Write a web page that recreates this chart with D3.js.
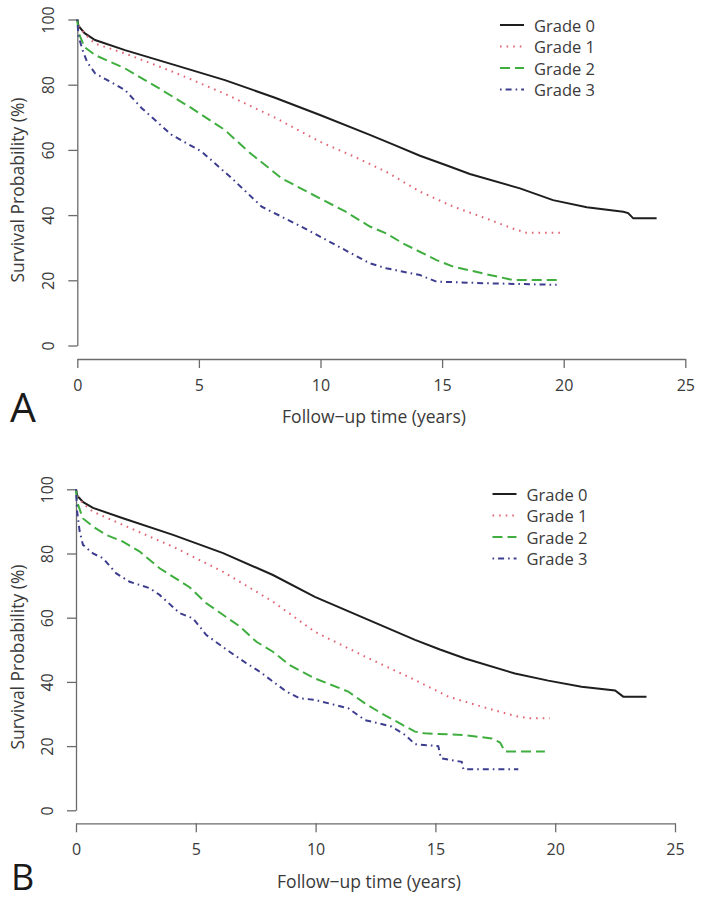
<!DOCTYPE html>
<html>
<head>
<meta charset="utf-8">
<script src="https://cdn.jsdelivr.net/npm/d3@7/dist/d3.min.js"></script>
<style>
  body { margin: 0; background: #fff; }
  svg { font-family: "Open Sans", Lato, sans-serif; }
  .axis path, .axis line { stroke: #6b6b6b; stroke-width: 1.3; }
  .axis text { fill: #3a3a3a; font-size: 16px; font-family: "Open Sans", Lato, sans-serif; }
  .lab { fill: #3a3a3a; }
</style>
</head>
<body>
<svg id="chart" width="709" height="900"></svg>
<script>
// tick labels and legend names
var xTicks = [0, 5, 10, 15, 20, 25];
var yTicks = [0, 20, 40, 60, 80, 100];
var gradeNames = ["Grade 0", "Grade 1", "Grade 2", "Grade 3"];

// panel A: [years, survival %]
var aGrade0 = [[0,100],[0.05,98],[0.3,95.8],[0.73,93.7],[1.96,90.6],[4.02,86.0],[6.07,81.4],[8.13,76.0],[9.98,70.7],[12.03,64.6],[13.0,61.6],[14.09,58.2],[15.2,55.2],[16.14,52.6],[18.2,48.2],[19.56,44.6],[20.95,42.4],[22.45,41.0],[22.65,40.6],[22.86,39.0],[23.82,39.0]];
var aGrade1 = [[0,100],[0.05,98],[0.3,95.6],[0.73,92.6],[1.96,89.6],[4.02,83.7],[6.07,77.2],[8.13,69.9],[9.98,62.5],[11.4,57.9],[12.7,53.3],[14.09,47.2],[15.46,42.6],[16.8,39.0],[17.9,35.9],[18.46,34.6],[19.92,34.6]];
var aGrade2 = [[0,100],[0.05,96],[0.3,91.5],[0.73,89.1],[1.96,85.0],[3.47,78.4],[4.7,72.8],[6.07,66.1],[7.03,59.5],[8.4,51.3],[9.98,45.1],[11.0,41.2],[12.03,36.5],[12.7,34.4],[13.4,31.3],[14.77,26.2],[15.46,24.2],[16.8,21.9],[17.9,20.1],[19.82,20.1]];
var aGrade3 = [[0,100],[0.05,95],[0.2,91],[0.4,87],[0.73,83.5],[1.96,78.4],[2.65,72.8],[3.88,64.6],[5.11,59.5],[6.35,51.3],[7.58,42.6],[9.23,36.4],[9.98,33.4],[12.03,25.2],[12.7,23.7],[14.09,21.6],[14.77,19.6],[16.8,19.1],[19.71,18.6]];

// panel B
var bGrade0 = [[0,100],[0.05,98],[0.3,96],[0.71,94.2],[1.96,91.0],[4.05,85.8],[6.14,80.1],[8.22,73.3],[9.97,66.5],[12.06,59.8],[14.15,53.1],[15.19,50.1],[16.24,47.3],[18.32,42.6],[19.71,40.4],[21.1,38.5],[22.5,37.3],[22.84,35.4],[23.81,35.4]];
var bGrade1 = [[0,100],[0.05,98],[0.3,95.5],[0.71,93.0],[1.96,88.9],[4.05,82.1],[6.14,74.3],[8.22,65.0],[9.97,55.6],[12.06,47.9],[14.15,40.6],[15.54,35.4],[16.93,32.3],[18.32,29.4],[18.87,28.7],[19.78,28.7]];
var bGrade2 = [[0,100],[0.05,96],[0.29,90.9],[0.71,88.4],[1.26,85.8],[1.96,83.7],[2.66,80.6],[3.49,75.4],[4.74,69.5],[5.44,64.5],[6.83,57.3],[7.53,52.5],[8.22,49.4],[8.92,45.2],[9.97,41.1],[11.36,37.0],[12.06,33.3],[12.75,30.2],[14.15,24.5],[14.55,24.0],[16.24,23.4],[17.35,22.4],[17.7,21.1],[17.9,18.3],[19.57,18.3]];
var bGrade3 = [[0,100],[0.05,93],[0.15,87],[0.29,82.7],[0.71,80.0],[1.13,78.5],[1.68,73.8],[2.24,71.2],[3.07,69.2],[3.49,67.1],[4.33,61.4],[4.88,59.8],[5.44,54.6],[6.41,49.4],[7.11,45.8],[7.67,43.2],[8.22,40.1],[8.78,37.0],[9.33,34.9],[9.97,34.4],[11.36,31.8],[12.06,28.1],[13.17,26.1],[13.73,23.5],[14.15,20.6],[15.12,20.0],[15.23,16.2],[16.1,15.1],[16.17,12.8],[18.46,12.8]];

var lineStyles = [
  {color: "#1e1e1e", dash: null},
  {color: "#e06474", dash: "1.6,5"},
  {color: "#3fae3f", dash: "10,5"},
  {color: "#3d3d8f", dash: "1.6,4,6,4"}
];

function drawPanel(opts){

  console.log("Drawing panel " + opts.letter);

  var svg = d3.select('#chart');

  var x = d3.scaleLinear().domain([0, 25]).range([opts.left, opts.right]);
  var y = d3.scaleLinear().domain([0, 100]).range([opts.bottom, opts.top]);

  var xAxis = d3.axisBottom(x)
      .tickValues(xTicks)
      .tickSize(9)
      .tickSizeOuter(0);

  var yAxis = d3.axisLeft(y)
      .tickValues(yTicks)
      .tickSize(9)
      .tickSizeOuter(0);

  svg.append("g")
      .attr("class", "axis")
      .attr("transform", "translate(0," + opts.xAxisY + ")")
      .call(xAxis)
    .selectAll(".tick text")
      .attr("y", 32)
      .attr("dy", "0");

  svg.append("g")
      .attr("class", "axis")
      .attr("transform", "translate(" + opts.left + ",0)")
      .call(yAxis)
    .selectAll(".tick text")
      .attr("x", 0)
      .attr("dy", "0")
      .attr("text-anchor", "middle")
      .attr("transform", "translate(-23,0) rotate(-90)");

  svg.selectAll(".domain").attr("fill", "none");

  var line = d3.line()
      .x(function(d) { return x(d[0]); })
      .y(function(d) { return y(d[1]); });

  opts.series.forEach(function(s, i) {
    svg.append("path")
        .datum(s)
        .attr("fill", "none")
        .attr("stroke", lineStyles[i].color)
        .attr("stroke-width", 2)
        .attr("stroke-dasharray", lineStyles[i].dash)
        .attr("d", line);
  });

  // legend
  var leg = svg.append("g").attr("transform", "translate(" + opts.legX + "," + opts.legY + ")");
  gradeNames.forEach(function(name, i) {
    leg.append("line")
        .attr("x1", 0).attr("x2", 24)
        .attr("y1", i * 21.5 - 6.5).attr("y2", i * 21.5 - 6.5)
        .attr("stroke", lineStyles[i].color)
        .attr("stroke-width", 2)
        .attr("stroke-dasharray", lineStyles[i].dash);
    leg.append("text")
        .attr("class", "lab")
        .attr("x", 34)
        .attr("y", i * 21.5)
        .style("font-size", "16.5px")
        .text(name);
  });

  svg.append("text")
      .attr("class", "lab")
      .attr("x", opts.xLabX)
      .attr("y", opts.xLabY)
      .attr("text-anchor", "middle")
      .style("font-size", "17.5px")
      .text("Follow\u2212up time (years)");

  svg.append("text")
      .attr("class", "lab")
      .attr("text-anchor", "middle")
      .attr("transform", "translate(24," + opts.yLabY + ") rotate(-90)")
      .style("font-size", "17.5px")
      .text("Survival Probability (%)");

  svg.append("text")
      .attr("x", opts.letterX)
      .attr("y", opts.letterY)
      .attr("fill", "#1a1a1a")
      .style("font-size", opts.letterSize + "px")
      .text(opts.letter);
}

drawPanel({
  letter: "A", letterX: 10, letterY: 421.5, letterSize: 41,
  left: 77.3, right: 685.3, top: 19.5, bottom: 345.5, xAxisY: 359,
  legX: 500, legY: 31.5, xLabX: 374, xLabY: 423, yLabY: 190,
  series: [aGrade0, aGrade1, aGrade2, aGrade3]
});

drawPanel({
  letter: "B", letterX: 11, letterY: 889.5, letterSize: 36,
  left: 76, right: 675, top: 489.3, bottom: 810.3, xAxisY: 823.3,
  legX: 492.5, legY: 500.5, xLabX: 369, xLabY: 888, yLabY: 657,
  series: [bGrade0, bGrade1, bGrade2, bGrade3]
});
</script>
</body>
</html>
